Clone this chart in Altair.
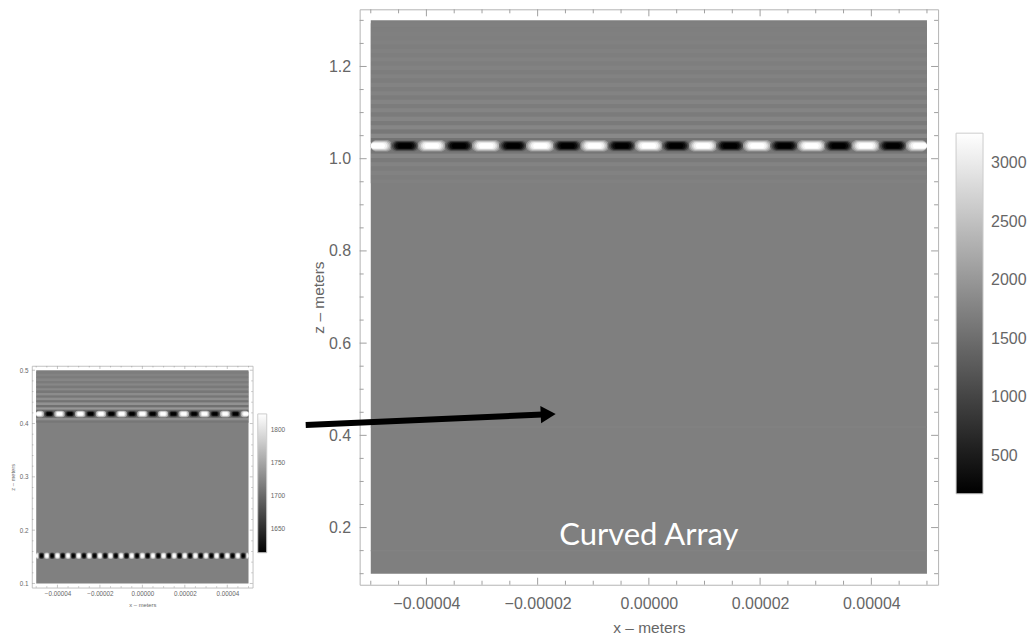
import altair as alt
import pandas as pd

FONT = "Liberation Sans"
LABEL = "#666666"
FRAME = "#b4b4b4"
TICK = "#a0a0a0"

# ---------------- main panel data ----------------
main_x_major = [-0.00004, -0.00002, 0.0, 0.00002, 0.00004]
main_x_minor = [-0.00005, -0.000045, -0.000035, -0.00003, -0.000025, -0.000015, -0.00001, -0.000005,
                0.000005, 0.00001, 0.000015, 0.000025, 0.00003, 0.000035, 0.000045, 0.00005]
main_z_major = [0.2, 0.4, 0.6, 0.8, 1.0, 1.2]
main_z_minor = [0.1, 0.15, 0.25, 0.3, 0.35, 0.45, 0.5, 0.55, 0.65, 0.7, 0.75, 0.85, 0.9, 0.95,
                1.05, 1.1, 1.15, 1.25, 1.3]
main_bar_ticks = [500, 1000, 1500, 2000, 2500, 3000]
main_bar_range = [173, 3258]
main_x_extent = [-0.00005, 0.00005]
main_z_extent = [0.1, 1.3]
main_background = 1715

# bright/dark focal band (x centres in units of 1e-5 m)
band_z = 1.028
band_x_e5 = [-4.875, -4.3875, -3.9, -3.4125, -2.925, -2.4375, -1.95, -1.4625, -0.975, -0.4875, 0.0,
             0.4875, 0.975, 1.4625, 1.95, 2.4375, 2.925, 3.4125, 3.9, 4.3875, 4.875]
band_kind = ["w", "d", "w", "d", "w", "d", "w", "d", "w", "d", "w",
             "d", "w", "d", "w", "d", "w", "d", "w", "d", "w"]
band_white = [2000, 2400, 2800, 3100, 3258]   # outer glow -> core
band_dark = [1430, 1030, 630, 330, 173]

# faint horizontal fringes around the band
fringe_z = [1.2889, 1.2797, 1.2705, 1.2613, 1.2521, 1.2429, 1.2337, 1.2245, 1.2153, 1.2061,
            1.1969, 1.1877, 1.1785, 1.1693, 1.1601, 1.1509, 1.1417, 1.1325, 1.1233, 1.1141,
            1.1049, 1.0957, 1.0865, 1.0773, 1.0681, 1.0589, 1.0497, 1.0405,
            1.0155, 1.0063, 0.9971, 0.9879, 0.9787, 0.9695, 0.9603, 0.9511]
fringe_v = [1722, 1708, 1726, 1705, 1730, 1700, 1735, 1696, 1740, 1692,
            1745, 1688, 1750, 1684, 1755, 1680, 1760, 1675, 1765, 1670,
            1772, 1662, 1780, 1650, 1795, 1630, 1830, 1560,
            1600, 1800, 1650, 1760, 1680, 1745, 1700, 1730]

# very faint traces of the shallower reflectors
faint_z = [0.418, 0.15]
faint_v = [1745, 1740]

# annotation
arrow_x = [-0.0000617, -0.0000181]
arrow_z = [0.4226, 0.4456]
label_x = [0.0]
label_z = [0.163]
label_text = ["Curved Array"]

# ---------------- inset data ----------------
inset_x_major = [-0.00004, -0.00002, 0.0, 0.00002, 0.00004]
inset_x_minor = main_x_minor
inset_z_major = [0.1, 0.2, 0.3, 0.4, 0.5]
inset_z_minor = [0.12, 0.14, 0.16, 0.18, 0.22, 0.24, 0.26, 0.28, 0.32, 0.34, 0.36, 0.38,
                 0.42, 0.44, 0.46, 0.48]
inset_bar_ticks = [1650, 1700, 1750, 1800]
inset_bar_range = [1614, 1824]
inset_x_extent = [-0.00005, 0.00005]
inset_z_extent = [0.1, 0.5]
inset_background = 1719

inset_top_z = 0.418
inset_top_x_e5 = band_x_e5
inset_top_kind = band_kind
inset_bot_z = 0.152
inset_bot_x_e5 = [-5.0, -4.75, -4.5, -4.25, -4.0, -3.75, -3.5, -3.25, -3.0, -2.75, -2.5, -2.25, -2.0,
                  -1.75, -1.5, -1.25, -1.0, -0.75, -0.5, -0.25, 0.0, 0.25, 0.5, 0.75, 1.0, 1.25,
                  1.5, 1.75, 2.0, 2.25, 2.5, 2.75, 3.0, 3.25, 3.5, 3.75, 4.0, 4.25, 4.5, 4.75, 5.0]
inset_bot_kind = ["w", "d", "w", "d", "w", "d", "w", "d", "w", "d", "w", "d", "w", "d",
                  "w", "d", "w", "d", "w", "d", "w", "d", "w", "d", "w", "d", "w", "d",
                  "w", "d", "w", "d", "w", "d", "w", "d", "w", "d", "w", "d", "w"]
inset_white = [1760, 1800, 1824]
inset_dark = [1680, 1640, 1614]

inset_fringe_z = [0.4955, 0.491, 0.4865, 0.482, 0.4775, 0.473, 0.4685, 0.464, 0.4595, 0.455,
                  0.4505, 0.446, 0.4415, 0.437, 0.4325, 0.428, 0.4235, 0.4125, 0.408, 0.4035]
inset_fringe_v = [1717, 1722, 1716, 1724, 1715, 1725, 1714, 1727, 1712, 1729,
                  1711, 1731, 1709, 1734, 1706, 1738, 1700, 1705, 1730, 1712]

# ---------------- sizes (style) ----------------
MW, MH = 579, 576
IW, IH = 221, 222
MAIN_LEVELS = [(0.26e-5, 0.0125, 5.8), (0.23e-5, 0.0105, 4.8), (0.20e-5, 0.0088, 4.0),
               (0.17e-5, 0.0072, 3.3), (0.13e-5, 0.0056, 2.6)]
MAIN_FRINGE_HH = 0.0046
MAIN_FAINT_HH = 0.0016
INSET_LEVELS_TOP = [(0.24e-5, 0.006, 2.5), (0.18e-5, 0.0045, 2), (0.12e-5, 0.003, 1)]
INSET_LEVELS_BOT = [(0.125e-5, 0.006, 2), (0.09e-5, 0.0045, 1.5), (0.06e-5, 0.003, 1)]
INSET_FRINGE_HH = 0.00225


def rect(xc, hw, zc, hh, v, xlim):
    return {"x": max(xc - hw, xlim[0]), "x2": min(xc + hw, xlim[1]),
            "z": zc - hh, "z2": zc + hh, "v": v}


def full_row(zc, hh, v, xlim):
    return {"x": xlim[0], "x2": xlim[1], "z": zc - hh, "z2": zc + hh, "v": v}


def tick_layers(xs, zs, w, h, xmaj, xmin, zmaj, zmin, lmaj, lmin, sw=1):
    out = []
    for vals, ln in ((xmaj, lmaj), (xmin, lmin)):
        d = pd.DataFrame({"x": vals})
        for y0, y1 in ((h, h - ln), (0, ln)):
            out.append(alt.Chart(d).mark_rule(color=TICK, strokeWidth=sw).encode(
                x=alt.X("x:Q", scale=xs), y=alt.value(y0), y2=alt.value(y1)))
    for vals, ln in ((zmaj, lmaj), (zmin, lmin)):
        d = pd.DataFrame({"z": vals})
        for x0, x1 in ((0, ln), (w, w - ln)):
            out.append(alt.Chart(d).mark_rule(color=TICK, strokeWidth=sw).encode(
                y=alt.Y("z:Q", scale=zs), x=alt.value(x0), x2=alt.value(x1)))
    return out


def img_layer(rows, xs, zs, cs, rad):
    return alt.Chart(pd.DataFrame(rows)).mark_rect(cornerRadius=rad).encode(
        x=alt.X("x:Q", scale=xs), x2="x2",
        y=alt.Y("z:Q", scale=zs), y2="z2",
        color=alt.Color("v:Q", scale=cs, legend=None))


# ================= main panel =================
mxs = alt.Scale(domain=[-0.000052, 0.000052], nice=False, zero=False)
mzs = alt.Scale(domain=[0.076, 1.324], nice=False, zero=False)
mcs = alt.Scale(domain=main_bar_range, range=["#000000", "#ffffff"], interpolate="rgb")

base_rows = [{"x": main_x_extent[0], "x2": main_x_extent[1], "z": main_z_extent[0],
              "z2": main_z_extent[1], "v": main_background}]
base_rows += [full_row(z, MAIN_FRINGE_HH, v, main_x_extent) for z, v in zip(fringe_z, fringe_v)]
base_rows += [full_row(z, MAIN_FAINT_HH, v, main_x_extent) for z, v in zip(faint_z, faint_v)]

main_base = alt.Chart(pd.DataFrame(base_rows)).mark_rect().encode(
    x=alt.X("x:Q", scale=mxs, axis=alt.Axis(
        values=main_x_major, format=".5f", ticks=False, domain=False, grid=False,
        labelFont=FONT, labelFontSize=16, labelColor=LABEL, labelPadding=11,
        labelFlush=False, labelOverlap=False,
        title="x – meters", titleFont=FONT, titleFontSize=15.5, titleColor=LABEL,
        titleFontWeight="normal", titlePadding=9)),
    x2="x2",
    y=alt.Y("z:Q", scale=mzs, axis=alt.Axis(
        values=main_z_major, format=".1f", ticks=False, domain=False, grid=False,
        labelFont=FONT, labelFontSize=16, labelColor=LABEL, labelPadding=9,
        labelFlush=False, labelOverlap=False,
        title="z – meters", titleFont=FONT, titleFontSize=15.5, titleColor=LABEL,
        titleFontWeight="normal", titlePadding=2)),
    y2="z2",
    color=alt.Color("v:Q", scale=mcs, legend=alt.Legend(
        orient="none", legendX=597, legendY=124, direction="vertical", title=None,
        gradientLength=361, gradientThickness=27, values=main_bar_ticks, format="d",
        gradientStrokeColor="#cccccc", gradientStrokeWidth=1, padding=0,
        labelFont=FONT, labelFontSize=16, labelColor=LABEL, labelOffset=8)),
)

main_layers = [main_base]
for i, (hw, hh, rad) in enumerate(MAIN_LEVELS):
    rows = []
    for xc, k in zip(band_x_e5, band_kind):
        v = band_white[i] if k == "w" else band_dark[i]
        rows.append(rect(xc * 1e-5, hw, band_z, hh, v, main_x_extent))
    main_layers.append(img_layer(rows, mxs, mzs, mcs, rad))

main_layers += tick_layers(mxs, mzs, MW, MH, main_x_major, main_x_minor,
                           main_z_major, main_z_minor, 7, 4)

label_df = pd.DataFrame({"x": label_x, "z": label_z, "t": label_text})
main_layers.append(alt.Chart(label_df).mark_text(
    font="Lato", fontSize=31, color="white", align="center", baseline="alphabetic").encode(
    x=alt.X("x:Q", scale=mxs), y=alt.Y("z:Q", scale=mzs), text="t:N"))

arrow_df = pd.DataFrame({"x": [arrow_x[0]], "x2": [arrow_x[1]], "z": [arrow_z[0]], "z2": [arrow_z[1]]})
main_layers.append(alt.Chart(arrow_df).mark_rule(color="black", strokeWidth=6).encode(
    x=alt.X("x:Q", scale=mxs), x2="x2",
    y=alt.Y("z:Q", scale=mzs), y2="z2"))
head_df = pd.DataFrame({"x": [arrow_x[1]], "z": [arrow_z[1]]})
main_layers.append(alt.Chart(head_df).mark_point(
    shape="triangle-right", filled=True, color="black", opacity=1, size=300, angle=357.5).encode(
    x=alt.X("x:Q", scale=mxs), y=alt.Y("z:Q", scale=mzs)))

main = alt.layer(*main_layers).properties(
    width=MW, height=MH, view=alt.ViewBackground(stroke=FRAME, strokeWidth=1))

# ================= inset panel =================
ixs = alt.Scale(domain=[-0.000052, 0.000052], nice=False, zero=False)
izs = alt.Scale(domain=[0.092, 0.508], nice=False, zero=False)
ics = alt.Scale(domain=inset_bar_range, range=["#000000", "#ffffff"], interpolate="rgb")

ibase_rows = [{"x": inset_x_extent[0], "x2": inset_x_extent[1], "z": inset_z_extent[0],
               "z2": inset_z_extent[1], "v": inset_background}]
ibase_rows += [full_row(z, INSET_FRINGE_HH, v, inset_x_extent)
               for z, v in zip(inset_fringe_z, inset_fringe_v)]

inset_base = alt.Chart(pd.DataFrame(ibase_rows)).mark_rect().encode(
    x=alt.X("x:Q", scale=ixs, axis=alt.Axis(
        values=inset_x_major, format=".5f", ticks=False, domain=False, grid=False,
        labelFont=FONT, labelFontSize=6.3, labelColor=LABEL, labelPadding=3,
        labelFlush=False, labelOverlap=False,
        title="x – meters", titleFont=FONT, titleFontSize=5.8, titleColor=LABEL,
        titleFontWeight="normal", titlePadding=4)),
    x2="x2",
    y=alt.Y("z:Q", scale=izs, axis=alt.Axis(
        values=inset_z_major, format=".1f", ticks=False, domain=False, grid=False,
        labelFont=FONT, labelFontSize=6.3, labelColor=LABEL, labelPadding=4,
        labelFlush=False, labelOverlap=False,
        title="z – meters", titleFont=FONT, titleFontSize=5.8, titleColor=LABEL,
        titleFontWeight="normal", titlePadding=4)),
    y2="z2",
    color=alt.Color("v:Q", scale=ics, legend=alt.Legend(
        orient="none", legendX=226, legendY=48, direction="vertical", title=None,
        gradientLength=139, gradientThickness=9, values=inset_bar_ticks, format="d",
        gradientStrokeColor="#cccccc", gradientStrokeWidth=1, padding=0,
        labelFont=FONT, labelFontSize=6.5, labelColor=LABEL, labelOffset=4)),
)

inset_layers = [inset_base]
for zc, xs_e5, kinds, levels in ((inset_top_z, inset_top_x_e5, inset_top_kind, INSET_LEVELS_TOP),
                                 (inset_bot_z, inset_bot_x_e5, inset_bot_kind, INSET_LEVELS_BOT)):
    for i, (hw, hh, rad) in enumerate(levels):
        rows = []
        for xc, k in zip(xs_e5, kinds):
            v = inset_white[i] if k == "w" else inset_dark[i]
            rows.append(rect(xc * 1e-5, hw, zc, hh, v, inset_x_extent))
        inset_layers.append(img_layer(rows, ixs, izs, ics, rad))

inset_layers += tick_layers(ixs, izs, IW, IH, inset_x_major, inset_x_minor,
                            inset_z_major, inset_z_minor, 3, 1.5, sw=0.6)

inset = alt.layer(*inset_layers).properties(
    width=IW, height=IH, view=alt.ViewBackground(stroke=FRAME, strokeWidth=0.8))

spacer = alt.Chart(pd.DataFrame({"a": [0]})).mark_point(opacity=0).encode(
    x=alt.X("a:Q", axis=None), y=alt.Y("a:Q", axis=None)).properties(
    width=IW, height=355, view=alt.ViewBackground(stroke="transparent"))

left = alt.vconcat(spacer, inset, spacing=0).resolve_scale(color="independent")

chart = alt.hconcat(left, main, spacing=15).resolve_scale(
    color="independent").properties(
    padding={"left": 0, "top": 0, "right": 0, "bottom": 0}, background="white"
).configure_view(stroke="transparent")

chart.save("out.html", embed_options={"renderer": "svg", "actions": False})
